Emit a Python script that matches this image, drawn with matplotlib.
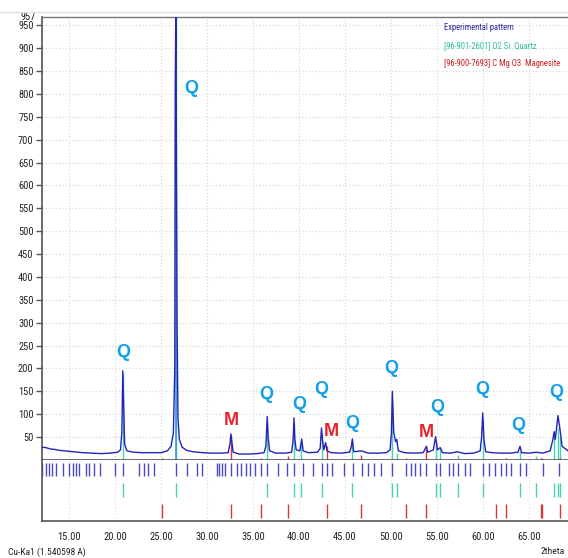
import matplotlib
matplotlib.use("Agg")
import matplotlib.pyplot as plt
from matplotlib.lines import Line2D
from matplotlib import font_manager as fm

# ---- experimental pattern (2theta, counts) ----
exp_2theta = [12.07, 12.5, 13.0, 13.5, 14.0, 14.5, 15.5, 16.5, 17.5, 18.5, 19.5, 20.3, 20.6,
              20.75, 20.85, 20.95, 21.05, 21.3, 22.0, 23.0, 24.0, 25.0, 25.7, 26.1, 26.35,
              26.5, 26.55, 26.62, 26.75, 26.85, 27.0, 27.3, 27.8, 28.5, 29.5, 30.5, 31.5,
              32.3, 32.5, 32.6, 32.7, 32.85, 33.5, 34.5, 35.5, 36.2, 36.4, 36.55, 36.65,
              36.8, 37.5, 38.5, 39.2, 39.35, 39.46, 39.55, 39.7, 40.1, 40.3, 40.45, 41.0,
              42.0, 42.3, 42.45, 42.55, 42.7, 42.9, 43.05, 43.5, 44.5, 45.5, 45.7, 45.8,
              45.95, 46.8, 47.5, 48.5, 49.5, 49.9, 50.05, 50.15, 50.3, 50.5, 50.62, 50.8,
              51.5, 52.5, 53.5, 53.85, 54.0, 54.6, 54.85, 55.05, 55.35, 55.6, 56.5, 57.2,
              58.0, 59.0, 59.7, 59.85, 59.97, 60.1, 60.3, 61.0, 62.0, 63.0, 63.8, 64.02,
              64.2, 65.0, 65.8, 66.5, 67.3, 67.6, 67.74, 67.85, 68.0, 68.15, 68.35, 68.6, 69.24]
exp_counts = [28, 27, 24, 23, 21, 20, 18, 16, 15, 14, 15, 17, 22,
              60, 195, 120, 35, 20, 17, 16, 16, 16, 20, 30, 60,
              200, 810, 1000, 300, 90, 45, 28, 21, 18, 16, 15, 15,
              16, 35, 57, 40, 17, 13, 13, 14, 16, 30, 95, 50,
              20, 15, 15, 17, 40, 92, 45, 22, 20, 46, 20, 16,
              17, 25, 70, 45, 22, 38, 20, 16, 15, 17, 30, 46,
              18, 20, 15, 15, 16, 22, 60, 150, 60, 40, 45, 20,
              16, 15, 16, 30, 17, 22, 51, 22, 27, 16, 15, 18,
              14, 15, 20, 50, 103, 45, 18, 16, 15, 15, 17, 30,
              16, 15, 17, 15, 20, 45, 62, 45, 70, 97, 70, 30, 20]

# ---- reference lines ----
quartz_pos = [20.88, 26.63, 36.55, 39.46, 40.25, 42.46, 45.80, 50.15, 50.62, 54.87, 55.33,
              57.24, 59.95, 64.02, 65.78, 67.74, 68.14, 68.32]
quartz_int = [190, 968, 80, 80, 40, 60, 40, 130, 15, 40, 25, 10, 90, 20, 8, 50, 70, 50]
magn_pos = [25.07, 32.58, 35.83, 38.84, 43.0, 46.78, 51.63, 53.86, 61.41, 62.46, 66.30, 66.45, 68.37]
magn_int = [5, 55, 5, 8, 30, 10, 5, 25, 3, 5, 5, 5, 5]

# ---- experimental peak list (sticks) ----
peak_list = [12.10, 12.47, 12.83, 13.19, 13.55, 14.31, 15.04, 15.40, 15.76, 16.12, 16.85,
             17.21, 17.72, 18.37, 20.00, 20.90, 22.57, 23.19, 23.62, 24.24, 26.63, 27.79,
             28.95, 29.49, 31.05, 31.34, 31.59, 31.96, 32.61, 33.23, 33.66, 34.24, 34.67,
             35.22, 35.83, 36.56, 37.68, 38.73, 39.46, 40.47, 41.52, 42.53, 43.00, 43.62,
             44.89, 45.90, 46.88, 47.54, 48.19, 48.88, 50.14, 51.63, 52.17, 52.61, 53.15,
             53.77, 54.89, 55.33, 56.30, 56.78, 57.32, 58.04, 58.59, 59.96, 60.68, 61.30,
             61.96, 62.46, 63.04, 64.02, 64.64, 66.55, 68.30]

# ---- peak labels ----
label_text = ['Q', 'Q', 'M', 'Q', 'Q', 'Q', 'M', 'Q', 'Q', 'M', 'Q', 'Q', 'Q', 'Q']
label_x = [20.88, 28.33, 32.68, 36.49, 40.04, 42.46, 43.55, 45.84, 50.08, 53.80, 55.00, 59.93, 63.84, 67.93]
label_y = [234, 811, 87, 144, 122, 153, 62, 79, 199, 61, 114, 155, 76, 147]

yticks = list(range(50, 951, 50))
xticks = [15, 20, 25, 30, 35, 40, 45, 50, 55, 60, 65]
xlabels = ['%.2f' % v for v in xticks]

# ---- choose a narrow font if one is installed ----
names = {f.name for f in fm.fontManager.ttflist}
narrow_props = None
for n in ['Liberation Sans Narrow', 'Arial Narrow', 'Roboto Condensed', 'Open Sans Condensed']:
    if n in names:
        narrow_props = dict(family=n)
        break
if narrow_props is None and any(f.name == 'DejaVu Sans' and str(f.stretch) == 'condensed'
                                for f in fm.fontManager.ttflist):
    narrow_props = dict(family='DejaVu Sans', stretch='condensed')

if narrow_props is not None:
    small = dict(narrow_props)
    TICK_FS, XT_FS, LEG_FS, FOOT_FS = 7.5, 7.6, 6.2, 6.8
else:
    small = dict(family=['Liberation Sans', 'DejaVu Sans'])
    TICK_FS, XT_FS, LEG_FS, FOOT_FS = 6.6, 6.8, 5.4, 6.0

plt.rcParams['font.family'] = ['Liberation Sans', 'DejaVu Sans']

W, H = 568, 558
fig = plt.figure(figsize=(W / 100, H / 100), dpi=100)
XMIN, XMAX = 12.07, 69.24
YMAX = 968

ax = fig.add_axes([42 / W, (H - 460) / H, 1 - 42 / W, 443 / H])
axp = fig.add_axes([42 / W, (H - 521) / H, 1 - 42 / W, 61 / H])

EXP_C = '#2424b8'
QZ_C = '#48d2b4'
MG_C = '#d23a3a'

ax.vlines(quartz_pos, 0, quartz_int, colors=QZ_C, lw=1.0, zorder=2)
ax.vlines(quartz_pos[1], 0, quartz_int[1], colors='#3c96e6', lw=1.2, zorder=2)
ax.vlines(magn_pos, 0, magn_int, colors=MG_C, lw=1.0, zorder=2)
ax.plot(exp_2theta, exp_counts, color=EXP_C, lw=1.0, zorder=3)

for t, x, y in zip(label_text, label_x, label_y):
    ax.text(x, y, t, color='#12a0e6' if t == 'Q' else '#e8202a', fontsize=13,
            fontweight='bold', ha='center', va='center', zorder=4)

ax.set_xlim(XMIN, XMAX)
ax.set_ylim(0, YMAX)
ax.set_yticks(yticks)
ax.set_yticklabels([str(v) for v in yticks])
for lab in ax.get_yticklabels():
    lab.set_fontproperties(fm.FontProperties(size=TICK_FS, **small))
    lab.set_color('#222222')
ax.text(-0.012, 1.0, '957', transform=ax.transAxes, ha='right', va='center',
        fontsize=TICK_FS, color='#222222', **small)
ax.set_xticks(xticks)
ax.tick_params(axis='x', length=0, labelbottom=False)
ax.tick_params(axis='y', length=4, width=1, color='#555555', pad=2)
ax.grid(True, color='#d4d4d4', ls=(0, (1, 2)), lw=0.8)
ax.set_axisbelow(True)
ax.spines['right'].set_visible(False)
ax.spines['top'].set_color('#777777')
ax.spines['top'].set_linewidth(1.0)
ax.spines['left'].set_color('#555555')
ax.spines['left'].set_linewidth(1.2)
ax.spines['bottom'].set_color('#555555')
ax.spines['bottom'].set_linewidth(1.2)

fig.text(444 / W, 1 - 28 / H, 'Experimental pattern', color='#2a2aa0', fontsize=LEG_FS,
         ha='left', va='center', **small)
fig.text(444 / W, 1 - 46 / H, '[96-901-2601] O2 Si  Quartz', color='#30c0a0', fontsize=LEG_FS,
         ha='left', va='center', **small)
fig.text(444 / W, 1 - 64 / H, '[96-900-7693] C Mg O3  Magnesite', color='#cc2020',
         fontsize=LEG_FS, ha='left', va='center', **small)

# stick panel
axp.vlines(peak_list, 45, 58, colors='#4a4ac4', lw=1.0)
axp.vlines(quartz_pos, 24, 38, colors=QZ_C, lw=1.0)
axp.vlines(magn_pos, 3, 17, colors=MG_C, lw=1.0)
axp.set_xlim(XMIN, XMAX)
axp.set_ylim(0, 61)
axp.set_yticks([])
axp.set_xticks(xticks)
axp.set_xticklabels(xlabels)
for lab in axp.get_xticklabels():
    lab.set_fontproperties(fm.FontProperties(size=XT_FS, **small))
    lab.set_color('#222222')
axp.tick_params(axis='x', length=0, pad=8)
axp.grid(True, axis='x', color='#dadada', ls=(0, (1, 2)), lw=0.8)
axp.set_axisbelow(True)
axp.spines['top'].set_visible(False)
axp.spines['right'].set_visible(False)
axp.spines['left'].set_color('#555555')
axp.spines['left'].set_linewidth(1.2)
axp.spines['bottom'].set_color('#555555')
axp.spines['bottom'].set_linewidth(1.2)

fig.text(8 / W, 1 - 552 / H, 'Cu-Ka1 (1.540598 A)', fontsize=FOOT_FS, color='#222222',
         ha='left', va='center', **small)
fig.text(565 / W, 1 - 551 / H, '2theta', fontsize=FOOT_FS, color='#222222', ha='right',
         va='center', **small)
fig.add_artist(Line2D([0, 1], [1 - 12 / H, 1 - 12 / H], color='#e2e2e2', lw=1))

fig.savefig('out.png', dpi=100)
